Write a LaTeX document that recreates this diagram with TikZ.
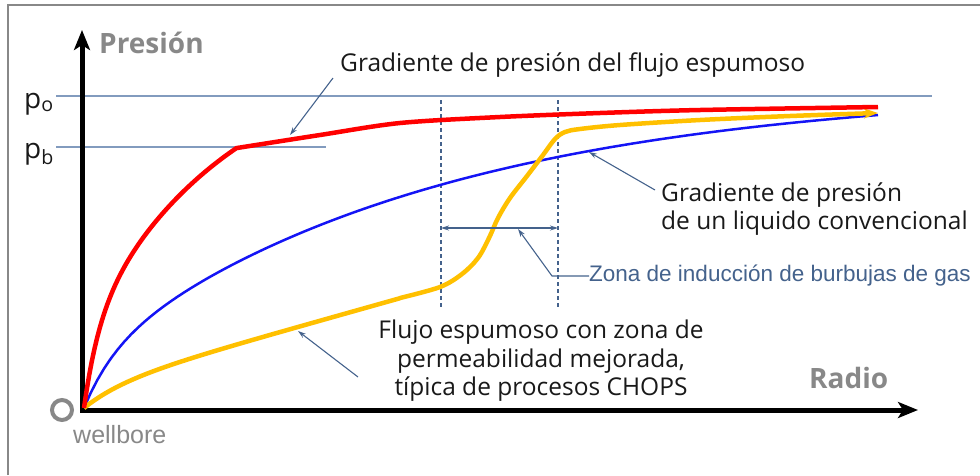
\documentclass[tikz,border=0pt]{standalone}
\usepackage{fontspec}
\usepackage{xcolor}
\usepackage{tikz}
\usetikzlibrary{arrows.meta}
\setmainfont{Open Sans}
\newfontfamily\arialfont{Liberation Sans}
\definecolor{foamred}{RGB}{255, 0, 0}
\definecolor{liqblue}{RGB}{20, 20, 245}
\definecolor{chopsyellow}{RGB}{255, 192, 0}
\definecolor{notecolor}{RGB}{68, 98, 140}
\definecolor{levelcolor}{RGB}{130, 155, 190}
\definecolor{axisgray}{RGB}{136, 136, 136}
\definecolor{textdark}{RGB}{25, 25, 25}

\tikzset{
  annot/.style={notecolor, line width=1.1pt, -{Stealth[length=8pt,width=5pt]}},
  axisline/.style={line width=5pt, -{Stealth[length=20pt,width=16pt,inset=5pt]}},
  curve/.style={line width=#1, line join=round},
  level/.style={levelcolor, line width=1.2pt},
  zoneline/.style={notecolor, line width=1.1pt, dash pattern=on 4pt off 3pt},
  label/.style={textdark, font=\fontsize{24.5}{28.5}\selectfont, inner sep=0pt}
}

\begin{document}
\begin{tikzpicture}[x=1pt, y=-1pt]
  \useasboundingbox (0,0) rectangle (980,475);
  % frame
  \draw[axisgray, line width=1.5pt] (8,475) -- (8,5) -- (980,5);

  % pressure levels
  \coordinate (po1) at (56,96);  \coordinate (po2) at (932,96);
  \coordinate (pb1) at (56,147); \coordinate (pb2) at (326,147);
  \draw[level] (po1) -- (po2);
  \draw[level] (pb1) -- (pb2);
  \node[textdark, font=\fontsize{28}{28}\selectfont, anchor=base west, inner sep=0pt] (plo) at (24,108) {p\textsubscript{o}};
  \node[textdark, font=\fontsize{28}{28}\selectfont, anchor=base west, inner sep=0pt] (plb) at (24,158) {p\textsubscript{b}};

  % zone limits
  \coordinate (z1top) at (441,100); \coordinate (z1bot) at (441,307);
  \coordinate (z2top) at (558,100); \coordinate (z2bot) at (558,307);
  \draw[zoneline] (z1top) -- (z1bot);
  \draw[zoneline] (z2top) -- (z2bot);

  % axes
  \coordinate (orig) at (82,410);
  \draw[axisline] (82,412) -- (82,30) coordinate (ytip);
  \draw[axisline] (80,410) -- (918,410) coordinate (xtip);
  \node[axisgray, font=\fontsize{28}{28}\selectfont\bfseries, anchor=base west, inner sep=0pt] (ylab) at (99,53) {Presión};
  \node[axisgray, font=\fontsize{28}{28}\selectfont\bfseries, anchor=base west, inner sep=0pt] (xlab) at (809,388) {Radio};
  \draw[axisgray, line width=4pt] (62,410) circle (10);
  \node[axisgray, font=\arialfont\fontsize{25}{25}\selectfont, anchor=base west, inner sep=0pt] (well) at (73,443) {wellbore};

  % curves (t = distance from the wellbore)
  \draw[liqblue, curve=2.5pt] plot[domain=0:794, samples=120]
    ({84+\x}, {408-50*(1-exp(-\x/30))-271*(1-exp(-\x/350))});
  \draw[chopsyellow, curve=4.5pt, -{Stealth[length=14pt,width=10pt,inset=4pt]}]
    plot[domain=0:316, samples=60] ({84+\x}, {408-21*(1-exp(-\x/40))-0.281*\x})
    -- plot[smooth, tension=0.55] coordinates
    {(400,298) (440,287) (462,274) (478,258) (489,238) (498,218) (510,198) (527,176) (543,155) (555,139) (565,132) (580,129) (620,125) (700,120) (790,116) (878,113)};
  \draw[foamred, curve=4.5pt]
    plot[domain=0:153, samples=60] ({84+\x}, {408-80*(1-exp(-\x/15))-282*(1-exp(-\x/150))})
    -- plot[smooth, tension=0.5] coordinates
    {(237,148) (320,135) (400,123) (500,117) (600,113) (700,110) (878,107)};

  % labels
  \node[label, anchor=base west] (tfoam) at (340,71) {Gradiente de presión del flujo espumoso};
  \node[label, anchor=west, align=left] (tliq) at (661,209) {Gradiente de presión\\de un liquido convencional};
  \node[notecolor, font=\arialfont\fontsize{22.5}{22.5}\selectfont, anchor=west, inner sep=0pt] (tzone) at (589,276) {Zona de inducción de burbujas de gas};
  \node[label, align=center] (tchops) at (541,361) {Flujo espumoso con zona de\\permeabilidad mejorada,\\típica de procesos CHOPS};

  % annotations
  \coordinate (afoam) at (290,135);
  \coordinate (aliq) at (589,152);
  \coordinate (azone) at (518,229);
  \coordinate (achops) at (298,331);
  \coordinate (sliq) at (655,190);
  \coordinate (schops) at (358,377);
  \draw[annot] ([xshift=-7pt, yshift=-7pt]tfoam.base west) -- (afoam);
  \draw[annot] (sliq) -- (aliq);
  \draw[notecolor, line width=1.1pt, -{Stealth[length=8pt,width=5pt]}] (tzone.west) -- ++(-37,0) -- (azone);
  \draw[annot] (schops) -- (achops);
  \coordinate (zl) at (441,228); \coordinate (zr) at (558,228);
  \draw[notecolor, line width=1.1pt, {Stealth[length=8pt,width=5pt]}-{Stealth[length=8pt,width=5pt]}] (zl) -- (zr);
\end{tikzpicture}
\end{document}
